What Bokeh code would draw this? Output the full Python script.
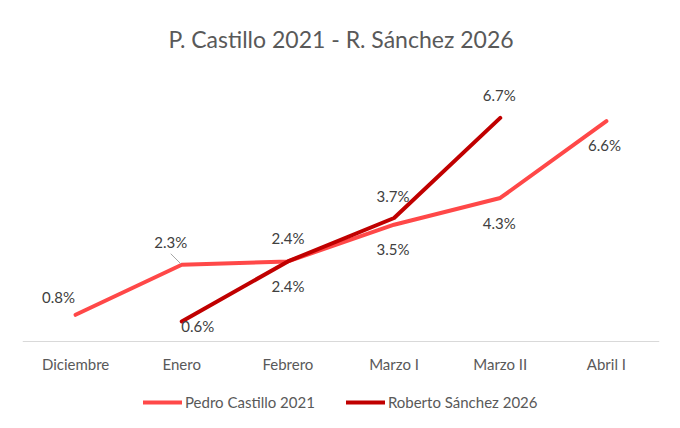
from bokeh.plotting import figure
from bokeh.models import ColumnDataSource, FixedTicker, Legend, LegendItem, Range1d, LinearAxis
from bokeh.core.properties import value
from bokeh.embed import file_html
from bokeh.resources import INLINE

categories = ["Diciembre", "Enero", "Febrero", "Marzo I", "Marzo II", "Abril I"]
castillo = [0.8, 2.3, 2.4, 3.5, 4.3, 6.6]
sanchez = [float("nan"), 0.6, 2.4, 3.7, 6.7, float("nan")]
title_text = "P. Castillo 2021 - R. Sánchez 2026"
name_castillo = "Pedro Castillo 2021"
name_sanchez = "Roberto Sánchez 2026"

# label offsets in screen px (down is positive)
castillo_dx = [-17, -11, 0, -1, -1, -2]
castillo_dy = [-18, -23, -23, 24, 25, 24]
sanchez_dx = [0, 16, 0, -1, -1, 0]
sanchez_dy = [0, 5, 25, -22, -23, 0]

FONT = "Lato"
C_CAST = "#FF4848"
C_SAN = "#C00000"

W, H = 680, 428
ML, MR, MT = 22, 21, 74
PLOT_H = 267          # height from value 0 to YMAX
BELOW = 87            # room under the zero line for labels and legend
YMAX = 8
PXU = PLOT_H / YMAX
YMIN = -BELOW / PXU
FW = W - ML - MR
FH = PLOT_H + BELOW

xs = list(range(len(categories)))

p = figure(frame_width=FW, frame_height=FH, output_backend="svg", toolbar_location=None,
           x_range=Range1d(-0.5, len(categories) - 0.5), y_range=Range1d(YMIN, YMAX),
           x_axis_location=None, y_axis_location=None,
           min_border_left=ML, min_border_right=MR, min_border_top=MT, min_border_bottom=0)

p.title.text = title_text
p.title.align = "center"
p.title.text_font = FONT
p.title.text_font_size = "23px"
p.title.text_font_style = "normal"
p.title.text_color = "#595959"
p.title.standoff = 44

p.outline_line_color = None
p.xgrid.grid_line_color = None
p.ygrid.grid_line_color = None

ax = LinearAxis(fixed_location=0)
ax.ticker = FixedTicker(ticks=xs)
ax.major_label_overrides = {i: c for i, c in enumerate(categories)}
ax.major_tick_line_color = None
ax.minor_tick_line_color = None
ax.major_tick_out = 0
ax.major_tick_in = 0
ax.axis_line_color = "#d9d9d9"
ax.axis_line_width = 1
ax.major_label_standoff = 13
ax.major_label_text_font = FONT
ax.major_label_text_font_size = "15px"
ax.major_label_text_color = "#595959"
p.add_layout(ax, "below")

src_c = ColumnDataSource(dict(x=xs, y=castillo))
src_s = ColumnDataSource(dict(x=xs, y=sanchez))

r_c = p.line("x", "y", source=src_c, line_color=C_CAST, line_width=4, line_cap="round", line_join="round")
r_s = p.line("x", "y", source=src_s, line_color=C_SAN, line_width=4, line_cap="round", line_join="round")

def labels(vals, dxs, dys):
    d = dict(x=[], y=[], t=[], dx=[], dy=[])
    for i, v in enumerate(vals):
        if v == v:
            d["x"].append(xs[i]); d["y"].append(v); d["t"].append(f"{v:.1f}%")
            d["dx"].append(dxs[i]); d["dy"].append(dys[i])
    return ColumnDataSource(d)

for s in (labels(castillo, castillo_dx, castillo_dy), labels(sanchez, sanchez_dx, sanchez_dy)):
    p.text("x", "y", text="t", source=s, x_offset="dx", y_offset="dy",
           text_align="center", text_baseline="middle", text_font=value(FONT),
           text_font_size="15px", text_color="#404040")

# leader line for Enero label of Castillo
px_x = FW / len(categories)
i = 1
p.segment(x0=[xs[i] - 11 / px_x], y0=[castillo[i] + 11 / PXU],
          x1=[xs[i] - 1 / px_x], y1=[castillo[i] + 1 / PXU],
          line_color="#a6a6a6", line_width=1)

legend = Legend(items=[LegendItem(label=name_castillo, renderers=[r_c]),
                       LegendItem(label=name_sanchez, renderers=[r_s])],
                orientation="horizontal", location=(121, 17),
                glyph_width=39, glyph_height=16, label_standoff=3, spacing=31,
                padding=0, margin=0, border_line_color=None, background_fill_alpha=0,
                label_text_font=FONT, label_text_font_size="15px", label_text_color="#595959")
p.add_layout(legend, "center")

open("out.html", "w").write(file_html(p, INLINE))
